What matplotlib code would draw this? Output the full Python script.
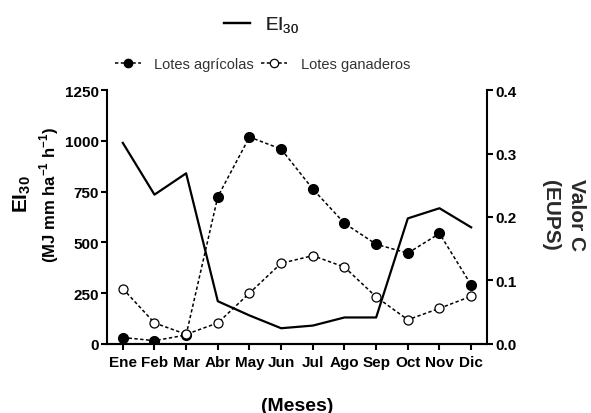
import matplotlib
matplotlib.use("Agg")
import matplotlib.pyplot as plt
from matplotlib.lines import Line2D
import numpy as np

plt.rcParams["font.family"] = ["Liberation Sans", "DejaVu Sans"]

MONTHS = ["Ene", "Feb", "Mar", "Abr", "May", "Jun", "Jul", "Ago", "Sep", "Oct", "Nov", "Dic"]
EI30 = [990, 735, 840, 210, 140, 77, 90, 130, 130, 618, 668, 574]
C_AGRICOLA = [0.010, 0.005, 0.014, 0.232, 0.326, 0.307, 0.244, 0.190, 0.157, 0.143, 0.174, 0.093]
C_GANADERO = [0.087, 0.033, 0.015, 0.033, 0.080, 0.127, 0.139, 0.121, 0.074, 0.038, 0.056, 0.075]


def main():
    fig = plt.figure(figsize=(5.91, 4.14), dpi=100)
    ax = fig.add_axes([0.181, 0.167, 0.643, 0.613])
    ax2 = ax.twinx()

    x = np.arange(len(MONTHS))
    ax.plot(x, EI30, color="black", linewidth=1.6, zorder=3)
    dash = (0, (2.2, 1.6))
    ax2.plot(x, C_AGRICOLA, color="black", linestyle=dash, linewidth=1.1,
             marker="o", markersize=7, markerfacecolor="black", markeredgecolor="black")
    ax2.plot(x, C_GANADERO, color="black", linestyle=dash, linewidth=1.1,
             marker="o", markersize=6.5, markerfacecolor="white", markeredgecolor="black",
             markeredgewidth=0.9)

    ax.set_xlim(-0.5, 11.5)
    ax.set_ylim(0, 1250)
    ax.set_yticks([0, 250, 500, 750, 1000, 1250])
    ax2.set_ylim(0, 0.4)
    ax2.set_yticks([0.0, 0.1, 0.2, 0.3, 0.4])
    ax2.set_yticklabels(["0.0", "0.1", "0.2", "0.3", "0.4"])
    ax.set_xticks(x)
    ax.set_xticklabels(MONTHS)

    for a in (ax, ax2):
        a.spines["top"].set_visible(False)
        for s in a.spines.values():
            s.set_linewidth(1.5)
        a.tick_params(width=1.5, length=4, direction="out", labelsize=11, pad=2)
        for lab in a.get_xticklabels() + a.get_yticklabels():
            lab.set_fontweight("bold")
    ax.tick_params(axis="x", pad=4)
    ax.spines["right"].set_visible(False)
    ax2.spines["left"].set_visible(False)

    fig.text(0.037, 0.53, r"EI$_{\mathregular{30}}$", rotation=90, ha="center", va="center",
             fontsize=15, fontweight="bold")
    fig.text(0.083, 0.53, r"(MJ mm ha$^{\mathregular{-1}}$ h$^{\mathregular{-1}}$)", rotation=90,
             ha="center", va="center", fontsize=12, fontweight="bold")
    fig.text(0.976, 0.48, "Valor C", rotation=270, ha="center", va="center",
             fontsize=15, fontweight="bold", color="#2a2a2a")
    fig.text(0.931, 0.48, "(EUPS)", rotation=270, ha="center", va="center",
             fontsize=15, fontweight="bold", color="#2a2a2a")
    fig.text(0.503, 0.019, "(Meses)", ha="center", va="center", fontsize=14, fontweight="bold")

    h1 = [Line2D([], [], color="black", linewidth=1.6)]
    leg1 = fig.legend(h1, [r"EI$_{\mathregular{30}}$"], loc="center", bbox_to_anchor=(0.442, 0.938),
                      frameon=False, fontsize=13.5, handlelength=1.4, handletextpad=0.8,
                      labelcolor="#222222")
    fig.add_artist(leg1)
    h2 = [
        Line2D([], [], color="black", linestyle=dash, linewidth=1.1, marker="o", markersize=6,
               markerfacecolor="black"),
        Line2D([], [], color="black", linestyle=dash, linewidth=1.1, marker="o", markersize=6,
               markerfacecolor="white", markeredgewidth=0.9),
    ]
    fig.legend(h2, ["Lotes agrícolas", "Lotes ganaderos"], loc="center",
               bbox_to_anchor=(0.444, 0.843), ncol=2, frameon=False, fontsize=10.5,
               handlelength=1.8, handletextpad=0.9, columnspacing=0.5,
               labelcolor="#333333")

    fig.savefig("out.png", dpi=100)
    plt.close(fig)


if __name__ == "__main__":
    main()
